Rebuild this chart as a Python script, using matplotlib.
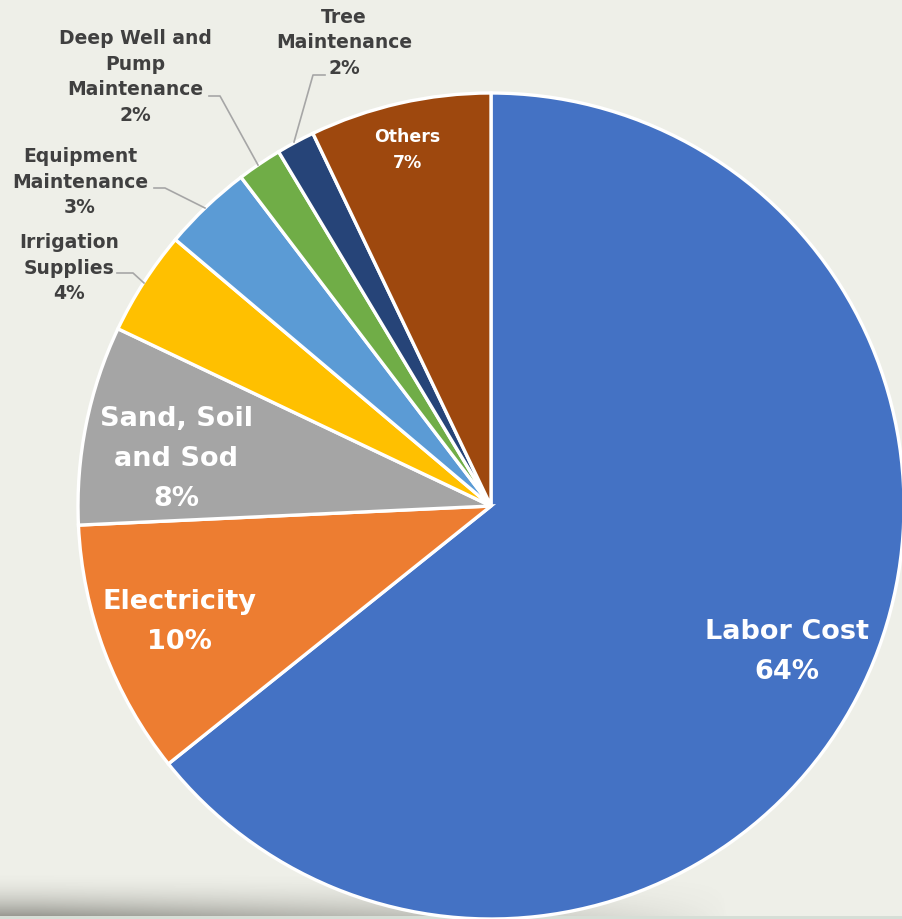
import numpy as np
import matplotlib
matplotlib.use("Agg")
import matplotlib.pyplot as plt

categories = ["Labor Cost", "Electricity", "Sand, Soil\nand Sod", "Irrigation\nSupplies",
              "Equipment\nMaintenance", "Deep Well and\nPump\nMaintenance",
              "Tree\nMaintenance", "Others"]
shares = [64.3, 10.0, 7.8, 4.1, 3.5, 1.75, 1.5, 7.1]
pct_labels = ["64%", "10%", "8%", "4%", "3%", "2%", "2%", "7%"]
colors = ["#4472C4", "#ED7D31", "#A5A5A5", "#FFC000", "#5B9BD5", "#70AD47", "#264478", "#9E480E"]

W, H = 902, 920
BG = "#EEEFE8"

plt.rcParams["font.family"] = ["DejaVu Sans"]

fig = plt.figure(figsize=(W / 100, H / 100), dpi=100, facecolor=BG)
ax = fig.add_axes([0, 0, 1, 1])
ax.set_facecolor(BG)

# soft shadow along the bottom edge
yy = np.linspace(0, 1, 60)[:, None]
xx = np.linspace(0, 1, 300)[None, :]
alpha = np.clip(yy, 0, 1) ** 2.0 * np.clip(1.05 - xx * 1.3, 0, 1) ** 0.8 * 0.6
shadow = np.zeros((60, 300, 4))
shadow[..., 0] = 0.38
shadow[..., 1] = 0.38
shadow[..., 2] = 0.35
shadow[..., 3] = alpha
ax.imshow(shadow, extent=(0, W, H - 917, H - 872), aspect="auto", zorder=0, origin="upper")
ax.axhspan(0, H - 917, color="#D6DED6", zorder=0.5, lw=0)

ax.pie(shares, colors=colors, startangle=90, counterclock=False,
       center=(491, H - 507), radius=413,
       wedgeprops=dict(edgecolor="white", linewidth=2.4), frame=True)

ax.set_xlim(0, W)
ax.set_ylim(0, H)
ax.set_aspect("equal")
ax.axis("off")

# labels inside the big slices
inside = {0: (787, 652, 19.5, 1.72), 1: (179, 622, 19.5, 1.72),
          2: (176, 459, 19.5, 1.72), 7: (407, 150, 12.5, 1.6)}
for i, (x, y, fs, ls) in inside.items():
    ax.text(x, H - y, categories[i] + "\n" + pct_labels[i], color="white", fontsize=fs,
            fontweight="bold", ha="center", va="center", linespacing=ls, zorder=5)

# labels outside with leader lines
outside = {
    3: ((69, 268), [(144, 284), (133, 274), (117, 274)]),
    4: ((80, 182), [(205, 209), (165, 189), (154, 189)]),
    5: ((135, 77), [(258, 166), (220, 97), (209, 97)]),
    6: ((344, 43), [(294, 143), (313, 76), (325, 76)]),
}
for i, ((x, y), pts) in outside.items():
    ax.text(x, H - y, categories[i] + "\n" + pct_labels[i], color="#404040", fontsize=13.5,
            fontweight="bold", ha="center", va="center", linespacing=1.45, zorder=5)
    px = [p[0] for p in pts]
    py = [H - p[1] for p in pts]
    ax.plot(px, py, color="#A6A6A6", lw=1.2, zorder=4)

fig.savefig("out.png", dpi=100, facecolor=BG)
